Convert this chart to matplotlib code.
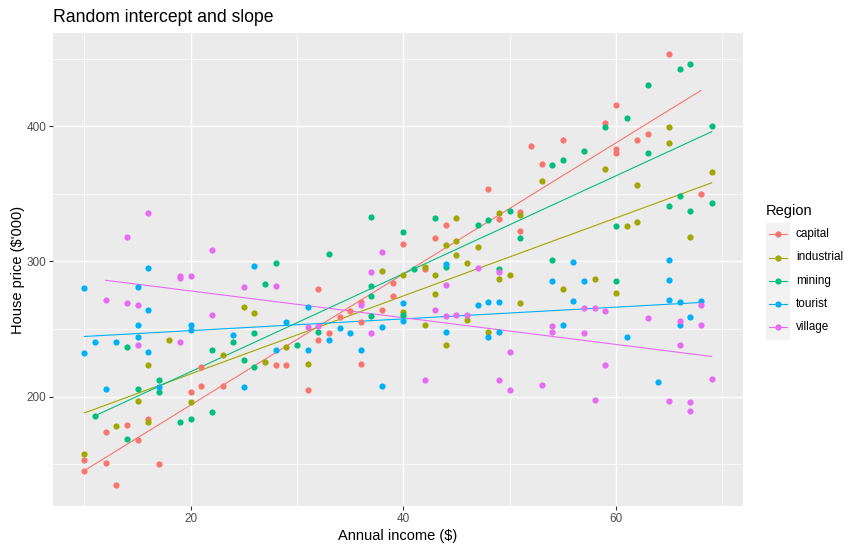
import matplotlib
matplotlib.use("Agg")
import matplotlib.pyplot as plt
from matplotlib.lines import Line2D
from matplotlib.patches import Rectangle
import numpy as np

plt.rcParams["font.family"] = ["Liberation Sans", "DejaVu Sans"]

regions = ["capital", "industrial", "mining", "tourist", "village"]
colours = ["#F8766D", "#A3A500", "#00BF7D", "#00B0F6", "#E76BF3"]

# Points: (income, price)
capital = [
    (10, 145.2), (10, 153.3), (12, 151.1), (12, 174.1), (13, 134.8), (14, 179.3),
    (15, 168.1), (16, 183.7), (17, 150.4), (20, 203.0), (21, 208.1), (21, 221.5),
    (23, 208.1), (28, 223.7), (29, 223.7), (31, 205.2), (32, 242.2), (32, 279.3),
    (33, 246.7), (34, 258.5), (35, 263.0), (36, 254.8), (36, 224.4), (36, 270.0),
    (38, 263.7), (39, 274.1), (39, 283.7), (40, 312.6), (42, 294.1), (43, 317.0),
    (44, 326.7), (48, 353.3), (49, 331.1), (51, 336.3), (51, 322.2), (52, 385.2),
    (53, 371.9), (55, 389.6), (59, 402.2), (60, 415.6), (60, 383.0), (60, 380.0),
    (62, 389.6), (63, 394.1), (65, 453.3), (68, 349.6),
]
industrial = [
    (10, 157.8), (13, 178.5), (15, 197.0), (16, 223.7), (16, 181.5), (18, 242.2),
    (20, 196.3), (23, 230.4), (25, 265.9), (26, 261.5), (27, 225.9), (29, 236.3),
    (31, 224.4), (38, 292.6), (40, 289.6), (40, 262.2), (42, 295.6), (42, 253.3),
    (43, 289.6), (43, 275.6), (44, 311.9), (44, 237.8), (45, 331.9), (45, 314.8),
    (45, 304.4), (46, 298.5), (46, 256.3), (47, 310.4), (48, 247.4), (49, 335.6),
    (49, 286.7), (50, 289.6), (51, 334.1), (51, 268.9), (53, 359.3), (55, 279.3),
    (58, 286.7), (59, 368.1), (60, 276.3), (61, 325.9), (62, 356.3), (62, 328.9),
    (65, 399.3), (65, 387.4), (67, 317.8), (69, 365.9),
]
mining = [
    (11, 185.9), (14, 236.3), (14, 168.9), (15, 205.9), (17, 211.9), (17, 203.7),
    (19, 181.5), (20, 183.7), (22, 234.1), (22, 188.9), (24, 240.0), (25, 227.4),
    (26, 246.7), (26, 221.5), (27, 283.0), (28, 298.5), (30, 238.5), (32, 247.4),
    (33, 305.2), (37, 332.6), (37, 281.5), (37, 274.1), (37, 259.3), (40, 321.5),
    (40, 260.7), (41, 294.1), (43, 331.9), (44, 295.6), (47, 326.7), (48, 330.4),
    (49, 294.1), (50, 337.0), (51, 317.0), (54, 371.1), (54, 300.7), (55, 374.8),
    (57, 381.5), (59, 399.3), (60, 325.9), (60, 285.2), (61, 405.9), (63, 430.4),
    (63, 380.0), (65, 340.7), (66, 442.2), (66, 348.1), (67, 445.9), (67, 337.0),
    (69, 400.0), (69, 343.0),
]
tourist = [
    (10, 280.0), (10, 231.9), (11, 240.0), (12, 205.9), (13, 240.0), (15, 280.7),
    (15, 253.3), (15, 244.4), (16, 294.8), (16, 264.4), (16, 232.6), (17, 207.4),
    (20, 253.3), (20, 248.9), (24, 245.9), (25, 206.7), (26, 296.3), (28, 234.1),
    (29, 254.8), (31, 265.9), (31, 234.1), (33, 242.2), (34, 250.4), (35, 246.7),
    (36, 234.8), (38, 251.1), (38, 208.1), (40, 268.9), (40, 255.6), (44, 297.8),
    (44, 247.4), (47, 268.1), (48, 269.6), (48, 243.7), (49, 269.6), (49, 248.1),
    (54, 285.2), (55, 252.6), (56, 299.3), (56, 270.4), (57, 285.2), (61, 244.4),
    (64, 210.4), (65, 300.7), (65, 285.9), (65, 271.1), (66, 269.6), (66, 253.3),
    (67, 258.5), (68, 270.4),
]
village = [
    (12, 271.1), (14, 317.8), (14, 268.9), (15, 267.4), (15, 237.8), (16, 335.6),
    (19, 289.0), (19, 287.5), (19, 240.7), (20, 289.1), (22, 308.1), (22, 260.7),
    (25, 280.7), (28, 281.5), (31, 251.1), (32, 251.9), (36, 268.1), (37, 291.9),
    (37, 246.7), (38, 306.7), (42, 212.6), (43, 264.4), (44, 282.2), (44, 259.3),
    (45, 260.0), (46, 260.7), (47, 294.8), (49, 291.9), (49, 212.6), (50, 233.3),
    (50, 205.2), (53, 208.9), (54, 251.9), (54, 248.1), (57, 265.2), (57, 246.7),
    (58, 265.2), (58, 197.8), (59, 263.0), (59, 223.7), (63, 257.8), (65, 197.0),
    (66, 255.6), (66, 237.8), (67, 195.6), (67, 189.6), (68, 267.4), (68, 252.6),
    (69, 213.3),
]

# Fitted lines per region (random intercept and slope)
intercepts = [96.7, 159.0, 145.9, 240.1, 297.9]
slopes = [4.85, 2.886, 3.624, 0.434, -0.989]

groups = [capital, industrial, mining, tourist, village]

W, H = 862, 551
fig = plt.figure(figsize=(W / 100, H / 100), dpi=100)
ax = fig.add_axes([53 / W, 1 - 506 / H, (743 - 53) / W, (506 - 33) / H])

ax.set_facecolor("#EBEBEB")
for s in ax.spines.values():
    s.set_visible(False)

ax.set_xlim(7.05, 71.95)
ax.set_ylim(119, 469)
ax.set_xticks([20, 40, 60])
ax.set_yticks([200, 300, 400])
ax.set_xticks([10, 30, 50, 70], minor=True)
ax.set_yticks([150, 250, 350, 450], minor=True)
ax.grid(which="major", color="white", lw=1.0)
ax.grid(which="minor", color="white", lw=0.5)
ax.set_axisbelow(True)
ax.tick_params(which="major", length=2.8, width=0.8, color="#333333",
               labelcolor="#4D4D4D", labelsize=8.5, pad=2)
ax.tick_params(which="minor", length=0)

for pts, col, a, b in zip(groups, colours, intercepts, slopes):
    x = np.array([p[0] for p in pts])
    y = np.array([p[1] for p in pts])
    ax.scatter(x, y, s=20, color=col, linewidths=0, zorder=3)
    xs = np.array([x.min(), x.max()])
    ax.plot(xs, a + b * xs, color=col, lw=0.8, zorder=2)

ax.set_xlabel("Annual income ($)", fontsize=10.5, labelpad=3)
ax.set_ylabel("House price ($'000)", fontsize=10.5, labelpad=1)
fig.text(53 / W, 1 - 17 / H, "Random intercept and slope", fontsize=12.7,
         ha="left", va="center")

# Legend
fig.text(766 / W, 1 - 211 / H, "Region", fontsize=10.5, ha="left", va="center")
for i, (name, col) in enumerate(zip(regions, colours)):
    cy = 234.3 + i * 23.2
    fig.patches.append(Rectangle((766 / W, 1 - (cy + 11.6) / H), 23.5 / W, 23.2 / H,
                                 transform=fig.transFigure, color="#F2F2F2", zorder=0))
    fig.lines.append(Line2D([769 / W, 787 / W], [1 - cy / H] * 2, color=col, lw=0.8,
                            transform=fig.transFigure))
    fig.lines.append(Line2D([778 / W], [1 - cy / H], color=col, marker="o", ms=4.5,
                            mew=0, transform=fig.transFigure))
    fig.text(796 / W, 1 - cy / H, name, fontsize=8.5, ha="left", va="center")

fig.savefig("out.png", dpi=100)
